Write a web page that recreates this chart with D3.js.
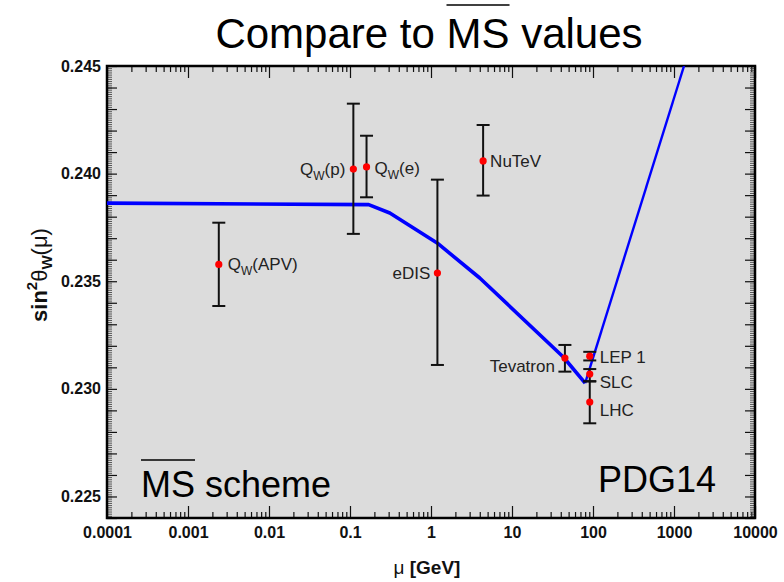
<!DOCTYPE html>
<html>
<head>
<meta charset="utf-8">
<script src="https://cdn.jsdelivr.net/npm/d3@7"></script>
<style>
  body { margin: 0; background: #fff; }
  svg { display: block; }
  text { font-family: "Liberation Sans", Arial, sans-serif; }
</style>
</head>
<body>
<div id="chart-area"></div>
<script>
// measurements (name, scale mu in GeV, value, error bar ends)
const pointLabels = ["Q_W(APV)", "Q_W(p)", "Q_W(e)", "eDIS", "NuTeV", "Tevatron", "LEP 1", "SLC", "LHC"];
const pointMu     = [0.0024, 0.11, 0.16, 1.2, 4.4, 45, 91.2, 91.2, 91.2];
const pointValue  = [0.23578, 0.24021, 0.24031, 0.23538, 0.24059, 0.23143, 0.23152, 0.23069, 0.22939];
const errLow      = [0.23385, 0.23720, 0.23890, 0.23111, 0.23898, 0.23080, 0.23132, 0.23034, 0.22840];
const errHigh     = [0.23772, 0.24325, 0.24176, 0.23972, 0.24226, 0.23204, 0.23172, 0.23092, 0.23036];

// running curve, below and above the W mass
const curveMu    = [0.0001, 0.17, 0.31, 1.19, 4.0, 43, 80];
const curveValue = [0.23863, 0.23856, 0.23817, 0.23678, 0.23515, 0.23148, 0.23027];
const riseMu     = [80, 1330];
const riseValue  = [0.23027, 0.24500];

// axes
const xDecades = [1e-4, 1e-3, 1e-2, 1e-1, 1, 10, 100, 1000, 10000];
const xTickLabels = ["0.0001", "0.001", "0.01", "0.1", "1", "10", "100", "1000", "10000"];
const yTickLabels = [0.225, 0.230, 0.235, 0.240, 0.245];

// label placement, kept apart from the values
const labelSide = {
  "Q_W(APV)": ["start", 9, 0], "Q_W(p)": ["end", -8, 0], "Q_W(e)": ["start", 8, 1],
  "eDIS": ["end", -7, 0], "NuTeV": ["start", 7, 0], "Tevatron": ["end", -10, 8],
  "LEP 1": ["start", 10, 1], "SLC": ["start", 10, 8], "LHC": ["start", 10, 8]
};

const canvas = { width: 784, height: 582 };
const plot = { left: 107, right: 755, top: 66, bottom: 518 };

const svg = d3.select("#chart-area").append("svg").attr("width", canvas.width).attr("height", canvas.height);

const x = d3.scaleLog().domain([1e-4, 1e4]).range([plot.left, plot.right]);
const y = d3.scaleLinear().domain([0.224, 0.245]).range([plot.bottom, plot.top]);

svg.append("defs").append("clipPath").attr("id", "clip")
  .append("rect").attr("x", plot.left).attr("y", plot.top)
  .attr("width", plot.right - plot.left).attr("height", plot.bottom - plot.top);

svg.append("rect").attr("x", plot.left).attr("y", plot.top)
  .attr("width", plot.right - plot.left).attr("height", plot.bottom - plot.top)
  .attr("fill", "#dcdcdc");

// minor tick values
const xMinor = [];
xDecades.slice(0, -1).forEach(d => { for (let k = 2; k <= 9; k++) xMinor.push(d * k); });
const yMajor = d3.range(0, 22).map(i => 0.224 + i * 0.001);
const yMinor = d3.range(0, 211).map(i => 0.224 + i * 0.0001);

function styleTicks(g) {
  g.select(".domain").remove();
  g.selectAll("line").attr("stroke", "#111").attr("stroke-width", 1.2);
}

// x axes (bottom with labels, top ticks only)
svg.append("g").attr("transform", "translate(0," + plot.bottom + ")")
  .call(d3.axisBottom(x).tickValues(xMinor).tickSize(-6).tickFormat(""))
  .call(styleTicks);
svg.append("g").attr("transform", "translate(0," + plot.bottom + ")")
  .call(d3.axisBottom(x).tickValues(xDecades).tickSize(-12).tickPadding(9)
    .tickFormat((d, i) => xTickLabels[i]))
  .call(styleTicks)
  .selectAll("text").attr("font-size", 16).attr("font-weight", "bold").attr("fill", "#111");
svg.append("g").attr("transform", "translate(0," + plot.top + ")")
  .call(d3.axisTop(x).tickValues(xMinor).tickSize(-6).tickFormat(""))
  .call(styleTicks);
svg.append("g").attr("transform", "translate(0," + plot.top + ")")
  .call(d3.axisTop(x).tickValues(xDecades).tickSize(-12).tickFormat(""))
  .call(styleTicks);

// y axes
svg.append("g").attr("transform", "translate(" + plot.left + ",0)")
  .call(d3.axisLeft(y).tickValues(yMinor).tickSize(-5).tickFormat(""))
  .call(styleTicks).selectAll("line").attr("stroke-width", 0.8).attr("stroke", "#333");
svg.append("g").attr("transform", "translate(" + plot.left + ",0)")
  .call(d3.axisLeft(y).tickValues(yMajor).tickSize(-10).tickFormat(""))
  .call(styleTicks);
svg.append("g").attr("transform", "translate(" + plot.left + ",0)")
  .call(d3.axisLeft(y).tickValues(yTickLabels).tickSize(0).tickPadding(6).tickFormat(d3.format(".3f")))
  .call(styleTicks)
  .selectAll("text").attr("font-size", 16).attr("font-weight", "bold").attr("fill", "#111");
svg.append("g").attr("transform", "translate(" + plot.right + ",0)")
  .call(d3.axisRight(y).tickValues(yMinor).tickSize(-5).tickFormat(""))
  .call(styleTicks).selectAll("line").attr("stroke-width", 0.8).attr("stroke", "#333");
svg.append("g").attr("transform", "translate(" + plot.right + ",0)")
  .call(d3.axisRight(y).tickValues(yMajor).tickSize(-10).tickFormat(""))
  .call(styleTicks);

// frame
svg.append("rect").attr("x", plot.left).attr("y", plot.top)
  .attr("width", plot.right - plot.left).attr("height", plot.bottom - plot.top)
  .attr("fill", "none").attr("stroke", "#000").attr("stroke-width", 2.5);

// curve
const line = d3.line().x(d => x(d[0])).y(d => y(d[1]));
const curveG = svg.append("g").attr("clip-path", "url(#clip)");
curveG.append("path").datum(curveMu.map((m, i) => [m, curveValue[i]]))
  .attr("d", line).attr("fill", "none").attr("stroke", "#0000ff").attr("stroke-width", 3.6)
  .attr("stroke-linejoin", "round");
curveG.append("path").datum(riseMu.map((m, i) => [m, riseValue[i]]))
  .attr("d", line).attr("fill", "none").attr("stroke", "#0000ff").attr("stroke-width", 2.4);

// error bars
const pts = pointLabels.map((name, i) => ({ name, mu: pointMu[i], v: pointValue[i], lo: errLow[i], hi: errHigh[i] }));
const bars = svg.append("g").selectAll("g").data(pts).enter().append("g");
bars.append("line").attr("x1", d => x(d.mu)).attr("x2", d => x(d.mu))
  .attr("y1", d => y(d.lo)).attr("y2", d => y(d.hi)).attr("stroke", "#111").attr("stroke-width", 2);
bars.append("line").attr("x1", d => x(d.mu) - 6.5).attr("x2", d => x(d.mu) + 6.5)
  .attr("y1", d => y(d.lo)).attr("y2", d => y(d.lo)).attr("stroke", "#111").attr("stroke-width", 2);
bars.append("line").attr("x1", d => x(d.mu) - 6.5).attr("x2", d => x(d.mu) + 6.5)
  .attr("y1", d => y(d.hi)).attr("y2", d => y(d.hi)).attr("stroke", "#111").attr("stroke-width", 2);
bars.append("circle").attr("cx", d => x(d.mu)).attr("cy", d => y(d.v)).attr("r", 3.6).attr("fill", "#ff0000");

// point labels, "_W" becomes a subscript
const labels = bars.append("text")
  .attr("x", d => x(d.mu) + labelSide[d.name][1])
  .attr("y", d => y(d.v) + labelSide[d.name][2] + 6)
  .attr("text-anchor", d => labelSide[d.name][0])
  .attr("font-size", 17).attr("fill", "#222");
labels.each(function (d) {
  const t = d3.select(this);
  const parts = d.name.split("_W");
  t.append("tspan").text(parts[0]);
  if (parts.length > 1) {
    t.append("tspan").attr("font-size", 12).attr("dy", 5).text("W");
    t.append("tspan").attr("dy", -5).text(parts[1]);
  }
});

// overline helper for MS-bar
function overline(textSel, from, to, yLine) {
  const n = textSel.node();
  const x1 = n.getStartPositionOfChar(from).x;
  const x2 = n.getEndPositionOfChar(to).x;
  svg.append("line").attr("x1", x1).attr("x2", x2).attr("y1", yLine).attr("y2", yLine)
    .attr("stroke", "#000").attr("stroke-width", 1.5);
}

// title
const title = svg.append("text").attr("x", 429).attr("y", 48).attr("text-anchor", "middle")
  .attr("font-size", 42).attr("fill", "#000").text("Compare to MS values");
overline(title, 11, 12, 5);

// inside annotations
const scheme = svg.append("text").attr("x", 141).attr("y", 497).attr("font-size", 36).text("MS scheme");
overline(scheme, 0, 1, 460);
svg.append("text").attr("x", 716).attr("y", 492).attr("text-anchor", "end").attr("font-size", 36).text("PDG14");

// axis titles
const yLabel = svg.append("text").attr("transform", "translate(47,275) rotate(-90)")
  .attr("text-anchor", "middle").attr("font-size", 22).attr("font-weight", "bold").attr("fill", "#111");
yLabel.append("tspan").text("sin");
yLabel.append("tspan").attr("font-size", 15).attr("dy", -10).text("2");
yLabel.append("tspan").attr("dy", 10).attr("font-weight", "normal").text("θ");
yLabel.append("tspan").attr("font-size", 15).attr("dy", 5).text("W");
yLabel.append("tspan").attr("dy", -5).attr("font-weight", "normal").text("(μ)");

const xLabel = svg.append("text").attr("x", 427).attr("y", 574).attr("text-anchor", "middle")
  .attr("font-size", 19).attr("fill", "#111");
xLabel.append("tspan").text("μ ");
xLabel.append("tspan").attr("font-weight", "bold").text("[GeV]");
</script>
</body>
</html>
